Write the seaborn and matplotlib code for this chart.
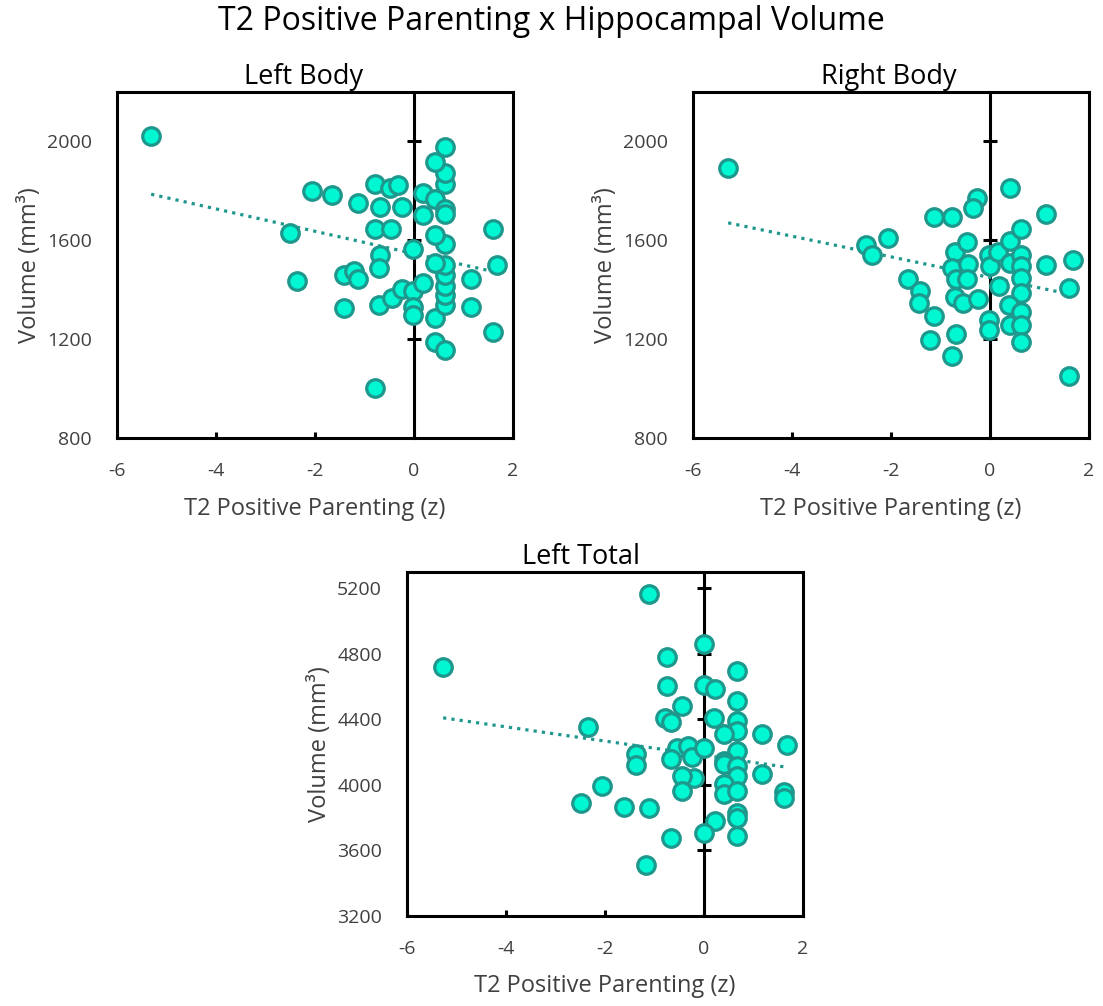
import numpy as np
import pandas as pd
import matplotlib
matplotlib.use("Agg")
import matplotlib.pyplot as plt
import seaborn as sns

# ---------------- data ----------------
suptitle = "T2 Positive Parenting x Hippocampal Volume"
panel_titles = ["Left Body", "Right Body", "Left Total"]
x_label = "T2 Positive Parenting (z)"
y_label = "Volume (mm³)"
x_ticks = [-6, -4, -2, 0, 2]
y_ticks_body = [800, 1200, 1600, 2000]
y_ticks_total = [3200, 3600, 4000, 4400, 4800, 5200]

x_left_body = [-5.31, -2.07, -1.65, -1.14, -0.78, -0.49, -0.32, -0.68, -0.25, -0.78,
               -0.47, -2.51, -0.03, -0.69, -0.70, -2.37, -1.41, -1.21, -1.14, -1.41,
               -0.70, -0.45, -0.25, -0.03, 0.19, -0.03, -0.03, -0.78, 0.42, 0.63,
               0.42, 0.63, 0.63, 0.63, 0.63, 0.63, 0.42, 1.15, 1.15, 1.59,
               1.67, 1.59, 0.63, 0.42, 0.19, 0.19, 0.42, 0.63, 0.63, 0.63,
               0.63, 0.42, 0.63]
y_left_body = [2022, 1798, 1782, 1751, 1829, 1813, 1824, 1736, 1736, 1644,
               1644, 1628, 1565, 1540, 1488, 1434, 1460, 1475, 1444, 1326,
               1339, 1366, 1403, 1393, 1427, 1332, 1299, 1003, 1190, 1156,
               1285, 1339, 1380, 1414, 1461, 1502, 1508, 1444, 1330, 1227,
               1502, 1647, 1583, 1621, 1703, 1793, 1768, 1725, 1705, 1827,
               1874, 1917, 1976]

x_right_body = [-5.29, -1.14, -0.77, -0.26, -0.35, 0.41, 1.14, -2.06, -2.50, -2.38,
                -1.66, -1.41, -1.43, -1.14, -1.21, -0.69, -0.77, -0.70, -0.46, -0.77,
                -0.45, -0.69, -0.46, -0.70, -0.54, -0.25, -0.03, -0.01, -0.03, -0.03,
                0.19, 0.17, 0.41, 0.63, 0.41, 0.63, 0.63, 0.63, 0.63, 0.39,
                0.63, 0.41, 0.63, 0.63, 1.14, 1.67, 1.59, 1.59]
y_right_body = [1894, 1694, 1694, 1770, 1732, 1813, 1705, 1610, 1580, 1542,
                1445, 1393, 1346, 1292, 1197, 1220, 1132, 1553, 1592, 1488,
                1506, 1443, 1443, 1370, 1346, 1362, 1542, 1495, 1278, 1238,
                1416, 1552, 1596, 1644, 1508, 1540, 1495, 1448, 1387, 1339,
                1308, 1258, 1258, 1190, 1502, 1522, 1407, 1052]

x_left_total = [-1.11, -5.27, -0.01, -0.74, 0.66, -0.74, -0.01, 0.22, 0.66, -0.44,
                -0.78, -0.66, 0.20, 0.66, 0.66, 0.40, -2.35, 1.18, 1.67, -1.38,
                -1.38, -0.54, -0.32, -0.24, -0.01, -0.67, 0.66, 0.40, 0.40, 0.66,
                0.66, 1.18, -0.20, -0.44, -0.44, 0.40, 0.40, 0.66, 1.62, 1.62,
                -2.07, -2.49, -1.62, -1.11, 0.66, 0.66, 0.22, -0.01, -0.66, 0.66,
                -1.18]
y_left_total = [5164, 4720, 4860, 4781, 4694, 4607, 4613, 4588, 4512, 4481,
                4406, 4386, 4410, 4390, 4329, 4313, 4354, 4309, 4244, 4187,
                4123, 4228, 4238, 4171, 4224, 4157, 4208, 4147, 4127, 4117,
                4056, 4066, 4042, 4052, 3965, 4005, 3944, 3965, 3955, 3920,
                3991, 3890, 3863, 3857, 3827, 3799, 3778, 3706, 3677, 3691,
                3513]

# ---------------- style ----------------
sns.set_theme(style="white")
plt.rcParams["font.family"] = ["Open Sans", "DejaVu Sans"]
plt.rcParams["axes.unicode_minus"] = False

FILL = "#00F7D2"
EDGE = "#1E978D"
TEXT = "#404040"
SPINE_W = 2.2

W, H = 1103, 1006
fig = plt.figure(figsize=(W / 100, H / 100), dpi=100)


def add_ax(l, t, r, b):
    return fig.add_axes([l / W, 1 - b / H, (r - l) / W, (b - t) / H])


panels = [
    dict(title=panel_titles[0], x=x_left_body, y=y_left_body, box=(117, 92, 513, 438),
         ylim=(800, 2200), yticks=y_ticks_body, tx=0.47),
    dict(title=panel_titles[1], x=x_right_body, y=y_right_body, box=(693, 92, 1089, 438),
         ylim=(800, 2200), yticks=y_ticks_body, tx=0.495),
    dict(title=panel_titles[2], x=x_left_total, y=y_left_total, box=(407, 572, 803, 916),
         ylim=(3200, 5300), yticks=y_ticks_total, tx=0.44),
]

for p in panels:
    ax = add_ax(*p["box"])
    df = pd.DataFrame({"x": p["x"], "y": p["y"]})
    sns.regplot(data=df, x="x", y="y", ax=ax, scatter=False, ci=None, truncate=True,
                line_kws=dict(color=EDGE, lw=2.3, ls=(0, (1, 1.6)), zorder=2))
    sns.scatterplot(data=df, x="x", y="y", ax=ax, s=160, color=FILL,
                    edgecolor=EDGE, linewidth=2.3, zorder=3, legend=False)
    ax.set_xlim(-6, 2)
    ax.set_ylim(*p["ylim"])
    ax.set_xticks(x_ticks)
    ax.set_xticklabels([str(v) for v in x_ticks])
    ax.set_yticks(p["yticks"])
    ax.set_yticklabels([str(v) for v in p["yticks"]])
    ax.tick_params(axis="x", bottom=True, direction="in", length=4, width=SPINE_W,
                   color="black", pad=17, labelsize=14, labelcolor=TEXT)
    ax.tick_params(axis="y", left=False, length=0, pad=18, labelsize=14,
                   labelcolor=TEXT)
    for s in ax.spines.values():
        s.set_visible(True)
        s.set_linewidth(SPINE_W)
        s.set_color("black")
    ax.grid(False)

    # vertical axis crossing at x = 0 with its tick marks
    loc = (0 - ax.get_xlim()[0]) / (ax.get_xlim()[1] - ax.get_xlim()[0])
    sec = ax.secondary_yaxis(loc)
    sec.set_yticks(p["yticks"][1:])
    sec.tick_params(axis="y", left=False, right=True, direction="inout", length=9.5,
                    width=SPINE_W, color="black", labelleft=False, labelright=False)
    for s in sec.spines.values():
        s.set_linewidth(SPINE_W)
        s.set_color("black")

    ax.set_xlabel(x_label, fontsize=17, color=TEXT)
    ax.set_ylabel(y_label, fontsize=17, color=TEXT)
    ax.xaxis.set_label_coords(0.5, -0.17)
    ax.yaxis.set_label_coords(-0.19, 0.5)
    ax.set_title(p["title"], x=p["tx"], pad=6, fontsize=19.5, color="black")

fig.suptitle(suptitle, x=0.5, y=1 - 21 / H, va="center", fontsize=23, color="black")

fig.savefig("out.png", dpi=100)
